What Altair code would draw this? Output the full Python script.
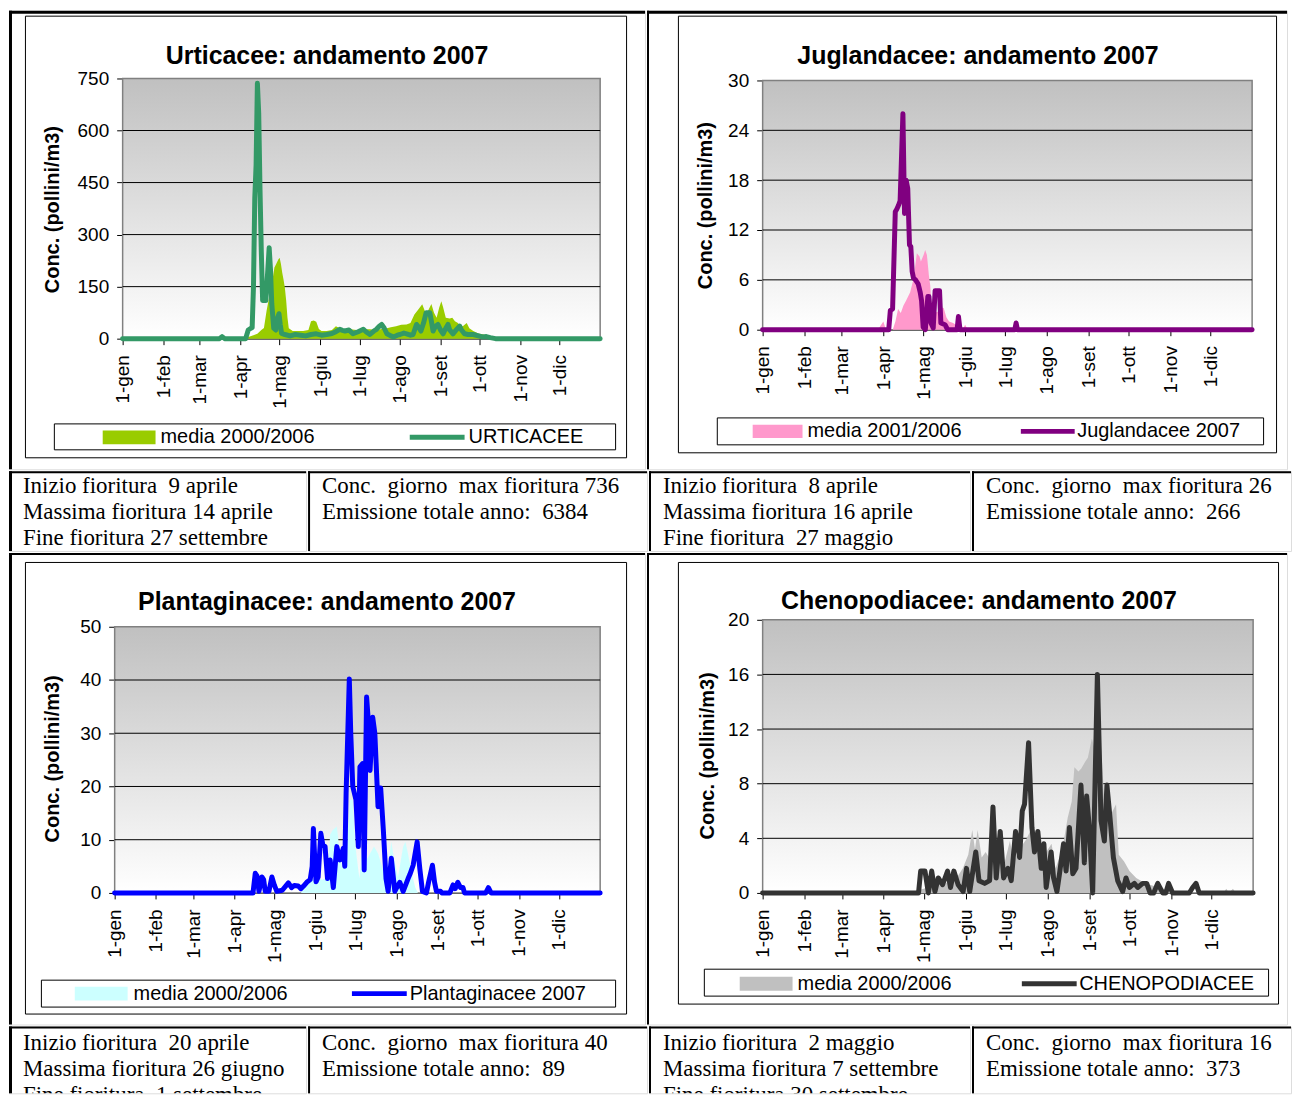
import altair as alt
import pandas as pd

# ---------------- data ----------------
MONTH_DAYS = [0, 31, 59, 90, 120, 151, 181, 212, 243, 273, 304, 334]
MONTH_LABELS = ["1-gen", "1-feb", "1-mar", "1-apr", "1-mag", "1-giu",
                "1-lug", "1-ago", "1-set", "1-ott", "1-nov", "1-dic"]

# Urticacee
URT_MEDIA_DAY = [0, 93, 96, 100, 103, 106, 108, 110, 112, 114, 116, 117, 119, 120, 121, 122, 123, 124, 125, 126,
                 127, 130, 134, 138, 142, 144, 146, 148, 150, 152, 156, 160, 163, 166, 169, 174, 179, 184, 189, 194,
                 198, 202, 205, 209, 213, 217, 220, 223, 226, 229, 232, 236, 238, 240, 242, 243.6, 245, 247, 250, 252,
                 254, 256, 258, 260, 263, 265, 268, 272, 276, 280, 285, 290, 295, 365]
URT_MEDIA_VAL = [0, 0, 5, 10, 14, 25, 31, 80, 120, 156, 205, 212, 228, 233, 215, 190, 170, 147, 110, 60,
                 30, 22, 22, 22, 25, 50, 52, 49, 28, 22, 22, 25, 36, 30, 27, 27, 25, 27, 27, 25,
                 28, 30, 33, 36, 40, 41, 45, 70, 84, 99, 70, 100, 75, 60, 90, 108, 90, 60, 58, 60,
                 50, 46, 38, 36, 45, 30, 22, 15, 12, 5, 4, 2, 0, 0]
URT_DAY = [0, 74, 76, 78, 94, 96, 98, 99, 100, 101, 102, 103, 104, 105, 106, 107, 108, 109.5, 111, 112,
           113, 114, 115.5, 117, 118.5, 119.5, 120.5, 121.5, 124, 128, 132, 136, 140, 144, 148, 152, 156, 160, 163, 166,
           168, 170, 173, 176, 180, 184, 186, 189, 192, 194, 196, 198, 200, 202, 205, 207, 210, 212, 215, 217,
           220, 222, 224.6, 226, 228, 230, 232, 234.8, 236, 237.3, 239, 241, 243, 245, 247, 248.7, 250, 252.5, 255, 257.6,
           259, 261.4, 264, 268, 272, 275, 278, 281, 285, 365]
URT_VAL = [0, 0, 6, 0, 0, 25, 30, 32, 150, 405, 500, 736, 650, 430, 250, 110, 110, 110, 200, 262,
           200, 100, 30, 25, 60, 72, 40, 15, 12, 8, 12, 10, 8, 12, 14, 10, 12, 15, 20, 27,
           24, 22, 25, 14, 20, 27, 20, 12, 22, 27, 35, 41, 30, 14, 8, 5, 10, 12, 16, 14,
           10, 12, 41, 35, 22, 45, 75, 75, 50, 22, 35, 41, 25, 14, 30, 41, 25, 14, 25, 36,
           25, 14, 12, 12, 8, 5, 6, 3, 0, 0]

# Juglandacee
JUG_MEDIA_DAY = [0, 86, 88, 90, 92, 97, 99, 101, 103, 105, 107, 110, 112.5, 115, 117, 118, 120, 121.2, 122.5, 124,
                 125, 126, 128, 131, 133, 135, 137, 139, 142, 147, 149, 151, 153, 365]
JUG_MEDIA_VAL = [0, 0, 0.5, 1, 0, 0, 1, 2.5, 2, 2.9, 3.5, 4.5, 6.1, 9.2, 8.8, 8.2, 9, 9.6, 9, 6.5,
                 5.3, 2.5, 2, 2.2, 2.7, 2.6, 1.5, 1, 0.8, 0.3, 0, 0.6, 0, 0]
JUG_DAY = [0, 94, 95.2, 96.9, 98.9, 100, 101.4, 102.5, 104.6, 105.8, 107, 108.2, 109.5, 110.5, 111.5, 112.5, 114, 116,
           117.5, 118.5, 119.7, 121.3, 123.2, 124, 125.5, 127.2, 128.6, 131.9, 132.9, 136, 137.9, 145, 146, 147.2,
           188, 189, 190, 365]
JUG_VAL = [0, 0, 2.3, 2.5, 14.2, 14.5, 15, 15.5, 26, 14, 18, 17, 10.2, 10, 7, 6.2, 6, 5.5,
           4.5, 3.5, 0.3, 0, 4, 4, 0.8, 0.2, 4.7, 4.7, 0.8, 0.6, 0, 0, 1.6, 0,
           0, 0.8, 0, 0]

# Plantaginacee
PLA_MEDIA_DAY = [0, 140, 144, 148, 152, 156, 160, 162, 164, 167, 169.4, 171, 173, 175, 177, 179, 181, 184, 186, 190,
                 192, 195, 198, 201, 203.3, 206, 208, 210, 213, 216.9, 218.6, 220.5, 224, 226, 228, 365]
PLA_MEDIA_VAL = [0, 0, 1.5, 2.5, 3, 2.5, 3, 11, 11.8, 12.5, 7.4, 4.6, 6.4, 10, 17.5, 17.5, 8.7, 2.7, 8.7, 6.4,
                 7.4, 8.7, 7.4, 5, 3, 6, 9.6, 6.4, 3, 8.7, 9.6, 7.4, 3, 1, 0, 0]
PLA_DAY = [0, 104, 105.7, 107, 108.5, 110.7, 112, 113.2, 116, 118.2, 120, 121.9, 126, 130.6, 133, 135, 138, 140, 142, 144.4,
           147, 148.5, 149.4, 150.5, 151.4, 153, 155, 156.5, 158.2, 160, 162, 164.4, 167, 169.4, 171.9, 173, 174, 176.4,
           177.5, 179, 181.4, 183.2, 184.4, 186.4, 187.6, 189.4, 190.5, 192, 194, 195.6, 198, 200, 202, 204, 205.6,
           208, 210.6, 212, 214.4, 216.9, 220.6, 222, 224.4, 227.4, 229.4, 231.4, 234.4, 236, 238.9, 240.5, 241.9,
           245, 246, 252, 254.4, 256, 258, 260, 261.9, 263, 279, 281, 283, 365]
PLA_VAL = [0, 0, 3.7, 3.2, 0.3, 3.0, 2.5, 0.3, 0.3, 3.0, 1.5, 0.3, 0.5, 1.9, 1.0, 1.4, 1.3, 0.8, 1.3, 2,
           2.5, 5, 12.1, 6, 2.1, 3, 11.2, 9, 8.7, 2.7, 6.2, 1, 8.7, 6.2, 8.4, 5, 18.7, 40.2,
           30, 20, 17.5, 8.7, 23.7, 24.3, 4.3, 36.8, 33, 23, 33, 30, 16.2, 19.7, 11.8, 2.7, 0.3,
           6.5, 0.3, 1, 2, 0.3, 2.7, 3.5, 5.2, 9.6, 4.6, 0.3, 0, 2, 5.2, 2, 0.3,
           0.3, 0, 0, 1.5, 0.8, 2, 1, 1, 0, 0, 1, 0, 0]

# Chenopodiacee
CHE_MEDIA_DAY = [0, 110, 115, 120, 125, 130, 135, 140, 145, 149, 153, 156, 158, 160, 163, 166, 170, 174, 176, 179,
                 184, 187, 191, 196, 201, 206, 211, 215, 218, 223, 227, 230, 232, 235, 237, 240, 242, 245, 248, 252,
                 254, 257, 260, 263, 265, 269, 273, 278, 285, 295, 305, 310, 343, 345, 347, 350, 352, 365]
CHE_MEDIA_VAL = [0, 0, 0.2, 0.3, 0.5, 0.8, 0.6, 1.0, 1.2, 1.8, 2.8, 4.6, 3.2, 4.6, 2.6, 3.0, 2.3, 3.2, 4.0, 1.8,
                 3.8, 2.3, 3.2, 3.9, 4.9, 3.7, 3.0, 3.6, 1.8, 3.2, 5.5, 6.7, 9.2, 8.9, 9.1, 9.6, 9.9, 11.3, 10.2, 10.5,
                 7.2, 5.2, 5.9, 6.5, 2.8, 2.3, 1.6, 1.1, 0.7, 0.4, 0.1, 0, 0, 0.3, 0, 0.3, 0, 0]
CHE_DAY = [0, 116, 117.6, 120.8, 123.3, 125.8, 128.2, 130.7, 133.9, 137.6, 139.8, 142.3, 145.5, 149.2, 151.7, 154.1,
           158.6, 161, 165.2, 168.9, 171.4, 173.8, 176.8, 179.3, 182.5, 185, 188.2, 191.2, 193.2, 194.9, 197.9, 200.4,
           202.3, 204.8, 207.3, 209.3, 211, 214.7, 216.5, 219, 220.9, 223.9, 225.8, 228.3, 230.8, 233.2, 236.9, 239.4,
           241.1, 243.1, 245.6, 249.1, 251.8, 254.3, 256.2, 258.5, 261, 264.2, 267.9, 270.4, 272.9, 276.6, 279.1,
           282.8, 285.8, 288.3, 291, 294, 297.7, 300, 302.1, 305.1, 317.5, 320, 322.5, 324.9, 365]
CHE_VAL = [0, 0, 1.6, 1.6, 0, 1.6, 0.1, 1.1, 0.6, 1.6, 0.4, 1.6, 0.6, 0.1, 1.8, 0.1,
           3.0, 0.9, 0.7, 0.9, 6.3, 1.1, 4.5, 1.1, 1.8, 0.9, 4.5, 2.6, 6.0, 6.5, 11.0, 4.8,
           3.0, 4.5, 1.8, 3.6, 0.4, 3.0, 1.1, 0.1, 1.4, 3.6, 1.6, 4.8, 1.4, 1.8, 7.9, 2.2,
           7.1, 4.8, 0, 16, 5.3, 3.8, 7.9, 5.5, 2.6, 0.9, 0.1, 1.1, 0.4, 0.7, 0.4,
           0.7, 0.7, 0, 0, 0.7, 0, 0, 0.7, 0, 0, 0.4, 0.7, 0, 0]

TITLES = ["Urticacee: andamento 2007", "Juglandacee: andamento 2007",
          "Plantaginacee: andamento 2007", "Chenopodiacee: andamento 2007"]
MEDIA_LABELS = ["media 2000/2006", "media 2001/2006", "media 2000/2006", "media 2000/2006"]
LINE_LABELS = ["URTICACEE", "Juglandacee 2007", "Plantaginacee 2007", "CHENOPODIACEE"]
Y_MAX = [750, 30, 50, 20]
Y_STEP = [150, 6, 10, 4]
Y_TITLE = "Conc. (pollini/m3)"

NB = "\u00a0"
TEXT_1A = ["Inizio fioritura " + NB + "9 aprile", "Massima fioritura 14 aprile", "Fine fioritura 27 settembre"]
TEXT_1B = ["Conc. " + NB + "giorno " + NB + "max fioritura 736", "Emissione totale anno: " + NB + "6384"]
TEXT_2A = ["Inizio fioritura " + NB + "8 aprile", "Massima fioritura 16 aprile", "Fine fioritura " + NB + "27 maggio"]
TEXT_2B = ["Conc. " + NB + "giorno " + NB + "max fioritura 26", "Emissione totale anno: " + NB + "266"]
TEXT_3A = ["Inizio fioritura " + NB + "20 aprile", "Massima fioritura 26 giugno", "Fine fioritura " + NB + "1 settembre"]
TEXT_3B = ["Conc. " + NB + "giorno " + NB + "max fioritura 40", "Emissione totale anno: " + NB + "89"]
TEXT_4A = ["Inizio fioritura " + NB + "2 maggio", "Massima fioritura 7 settembre", "Fine fioritura 30 settembre"]
TEXT_4B = ["Conc. " + NB + "giorno " + NB + "max fioritura 16", "Emissione totale anno: " + NB + "373"]

# ---------------- styles / layout (page pixel coordinates) ----------------
FONT = "Liberation Sans"
SERIF = "Liberation Serif"
MEDIA_COLORS = ["#99cc00", "#ff99cc", "#ccffff", "#c0c0c0"]
LINE_COLORS = ["#339966", "#800080", "#0000ff", "#333333"]

LEFT = 8
TOP = 12       # top of the drawing as it lands on the page
RIGHT = 1288   # right edge of the drawing (page px)
LAYOUT = [
    dict(cell=(LEFT, TOP, 646, 472), plot=(122, 80, 601, 341), box=(24, 17, 628, 461), title=(327, 65),
         ytitle=(52, 211), lbox=(53, 426, 617, 453), swatch=(102, 155, 440), mlab=160,
         lsym=(410, 465, 440), llab=469),
    dict(cell=(646, TOP, RIGHT, 472), plot=(762, 82, 1253, 332), box=(677, 17, 1278, 456), title=(978, 65),
         ytitle=(705, 207), lbox=(716, 420, 1265, 448), swatch=(752, 802, 434), mlab=807,
         lsym=(1021, 1075, 434), llab=1077),
    dict(cell=(LEFT, 552, 646, 1025), plot=(114, 626, 601, 893), box=(24, 561, 628, 1015), title=(327, 609),
         ytitle=(52, 758), lbox=(40, 980, 617, 1008), swatch=(74, 127, 994), mlab=133,
         lsym=(352, 407, 994), llab=410),
    dict(cell=(646, 552, RIGHT, 1025), plot=(762, 619, 1254, 893), box=(677, 561, 1280, 1005), title=(979, 608),
         ytitle=(707, 755), lbox=(703, 969, 1270, 997), swatch=(739, 792, 984), mlab=797,
         lsym=(1022, 1077, 984), llab=1079),
]
TEXT_COLS = [LEFT, 306, 646, 968, RIGHT]
TEXT_ROWS = [(472, 552, 22), (1025, 1092, 24)]

GRADIENT = alt.LinearGradient(
    gradient="linear",
    stops=[alt.GradientStop(color="#c0c0c0", offset=0), alt.GradientStop(color="#ffffff", offset=1)],
    x1=0, x2=0, y1=0, y2=1,
)

LABEL_EXPR = ("[" + ",".join("'%s'" % m for m in MONTH_LABELS) + "][indexof(["
              + ",".join(str(d) for d in MONTH_DAYS) + "], datum.value)]")

ONE = pd.DataFrame({"k": [0]})


def v(n):
    return alt.value(n)


def borders(w, h, top_w=2, left_w=2):
    base = alt.Chart(ONE)
    cell = base.mark_rect(fill="transparent", strokeWidth=0).encode(x=v(0), x2=v(w), y=v(0), y2=v(h))
    top = base.mark_rect(fill="black", strokeWidth=0).encode(x=v(0), x2=v(w), y=v(0), y2=v(top_w))
    left = base.mark_rect(fill="black", strokeWidth=0).encode(x=v(0), x2=v(left_w), y=v(0), y2=v(h))
    return [cell, top, left]


def chart_panel(i, media_day, media_val, line_day, line_val):
    p = LAYOUT[i]
    cx0, cy0, cx1, cy1 = p["cell"]
    CW, CH = cx1 - cx0, cy1 - cy0

    def rx(x):
        return x - cx0

    def ry(y):
        return y - cy0

    px0, py0, px1, py1 = p["plot"]
    ymax, ystep = Y_MAX[i], Y_STEP[i]
    yticks = list(range(0, ymax + 1, ystep))

    xscale = alt.Scale(domain=[0, 365], range=[rx(px0), rx(px1)], nice=False, zero=False)
    yscale = alt.Scale(domain=[0, ymax], range=[ry(py1), ry(py0)], nice=False, zero=False)
    xaxis = alt.Axis(values=MONTH_DAYS, labelExpr=LABEL_EXPR, labelAngle=270, labelAlign="right",
                     labelBaseline="middle", labelFont=FONT, labelFontSize=19, labelColor="black",
                     labelPadding=10, tickSize=6, tickColor="black", domainColor="black",
                     labelFlush=False, labelOverlap=False, grid=False, title=None,
                     offset=ry(py1) - CH)
    yaxis = alt.Axis(values=yticks, labelFont=FONT, labelFontSize=19, labelColor="black",
                     labelPadding=8, tickSize=6, tickColor="black", domainColor="#808080",
                     labelFlush=False, labelOverlap=False, grid=False, offset=-rx(px0),
                     title=Y_TITLE, titleFont=FONT, titleFontSize=20, titleFontWeight="bold",
                     titleColor="black", titleAngle=270, titleAlign="center", titleBaseline="middle",
                     titleX=p["ytitle"][0] - px0, titleY=ry(p["ytitle"][1]))

    base = alt.Chart(ONE)
    bx0, by0, bx1, by1 = p["box"]
    box = base.mark_rect(fill="transparent", stroke="black", strokeWidth=1).encode(
        x=v(rx(bx0) + 0.5), x2=v(rx(bx1) - 0.5), y=v(ry(by0) + 0.5), y2=v(ry(by1) - 0.5))
    ttl = base.mark_text(font=FONT, fontSize=25, fontWeight="bold", align="center",
                         baseline="alphabetic", color="black").encode(
        x=v(rx(p["title"][0])), y=v(ry(p["title"][1])), text=v(TITLES[i]))
    lx0, ly0, lx1, ly1 = p["lbox"]
    lbox = base.mark_rect(fill="transparent", stroke="black", strokeWidth=1).encode(
        x=v(rx(lx0) + 0.5), x2=v(rx(lx1) - 0.5), y=v(ry(ly0) + 0.5), y2=v(ry(ly1) - 0.5))

    bg_df = pd.DataFrame({"day": [0], "day2": [365], "val": [0], "val2": [ymax]})
    bg = alt.Chart(bg_df).mark_rect(fill=GRADIENT, stroke="#808080", strokeWidth=1.5).encode(
        x=alt.X("day:Q", scale=xscale, axis=xaxis), x2=alt.X2("day2"),
        y=alt.Y("val:Q", scale=yscale, axis=yaxis), y2=alt.Y2("val2"))

    grid_df = pd.DataFrame({"val": yticks[1:-1], "day": [0] * (len(yticks) - 2),
                            "day2": [365] * (len(yticks) - 2)})
    grid = alt.Chart(grid_df).mark_rule(color="black", strokeWidth=1).encode(
        x=alt.X("day:Q", scale=xscale, axis=xaxis), x2=alt.X2("day2"),
        y=alt.Y("val:Q", scale=yscale, axis=yaxis))

    # legend geometry
    sw0, sw1, scy = p["swatch"]
    sw = sw1 - sw0
    fill_legend = alt.Legend(orient="none", legendX=rx(sw0), legendY=ry(scy) - sw / 2.0, title=None,
                             padding=0, symbolType="M-1,-0.264H1V0.264H-1Z", symbolSize=sw * sw,
                             symbolStrokeWidth=0, symbolOpacity=1, labelFont=FONT, labelFontSize=20,
                             labelColor="black", labelLimit=500, labelOffset=max(0, p["mlab"] - sw1))
    ls0, ls1, lcy = p["lsym"]
    lw = ls1 - ls0
    lsize = lw + 5
    stroke_legend = alt.Legend(orient="none", legendX=rx(ls0) - 2.5, legendY=ry(lcy) - lsize / 2.0,
                               title=None, padding=0, symbolType="M-1,0H1", symbolSize=lw * lw,
                               symbolStrokeWidth=5, symbolOpacity=1, labelFont=FONT, labelFontSize=20,
                               labelColor="black", labelLimit=500,
                               labelOffset=max(0, p["llab"] - (ls0 - 2.5 + lsize)))

    media_df = pd.DataFrame({"day": media_day, "val": media_val, "serie_m": MEDIA_LABELS[i]})
    area = alt.Chart(media_df).mark_area(opacity=1, interpolate="linear").encode(
        x=alt.X("day:Q", scale=xscale, axis=xaxis),
        y=alt.Y("val:Q", scale=yscale, axis=yaxis, stack=False),
        fill=alt.Fill("serie_m:N", scale=alt.Scale(domain=[MEDIA_LABELS[i]], range=[MEDIA_COLORS[i]]),
                      legend=fill_legend))

    line_df = pd.DataFrame({"day": line_day, "val": line_val, "serie_l": LINE_LABELS[i]})
    line = alt.Chart(line_df).mark_line(strokeWidth=5, strokeJoin="round", strokeCap="round").encode(
        x=alt.X("day:Q", scale=xscale, axis=xaxis),
        y=alt.Y("val:Q", scale=yscale, axis=yaxis),
        stroke=alt.Stroke("serie_l:N", scale=alt.Scale(domain=[LINE_LABELS[i]], range=[LINE_COLORS[i]]),
                          legend=stroke_legend))

    top_w = 3 if cy0 == TOP else 2
    left_w = 3 if cx0 == LEFT else 2
    layers = borders(CW, CH, top_w, left_w) + [box, ttl, lbox, bg, grid, area, line]
    return alt.layer(*layers).properties(width=CW, height=CH)


def text_cell(x0, x1, row, lines):
    y0, y1, base_y = row
    w, h = x1 - x0, y1 - y0
    txt = alt.Chart(ONE).mark_text(font=SERIF, fontSize=23, lineHeight=26, align="left",
                                   baseline="alphabetic", color="black", clip=True).encode(
        x=v(14), y=v(base_y), text=v(lines))
    left_w = 3 if x0 == LEFT else 2
    return alt.layer(*(borders(w, h, 2, left_w) + [txt])).properties(width=w, height=h)


def indep(c):
    return c.resolve_scale(fill="independent", stroke="independent").resolve_legend(
        fill="independent", stroke="independent")


p1 = chart_panel(0, URT_MEDIA_DAY, URT_MEDIA_VAL, URT_DAY, URT_VAL)
p2 = chart_panel(1, JUG_MEDIA_DAY, JUG_MEDIA_VAL, JUG_DAY, JUG_VAL)
p3 = chart_panel(2, PLA_MEDIA_DAY, PLA_MEDIA_VAL, PLA_DAY, PLA_VAL)
p4 = chart_panel(3, CHE_MEDIA_DAY, CHE_MEDIA_VAL, CHE_DAY, CHE_VAL)

TX = TEXT_COLS
row1 = indep(alt.hconcat(p1, p2, spacing=0))
trow1 = alt.hconcat(text_cell(TX[0], TX[1], TEXT_ROWS[0], TEXT_1A), text_cell(TX[1], TX[2], TEXT_ROWS[0], TEXT_1B),
                    text_cell(TX[2], TX[3], TEXT_ROWS[0], TEXT_2A), text_cell(TX[3], TX[4], TEXT_ROWS[0], TEXT_2B),
                    spacing=0)
row2 = indep(alt.hconcat(p3, p4, spacing=0))
trow2 = alt.hconcat(text_cell(TX[0], TX[1], TEXT_ROWS[1], TEXT_3A), text_cell(TX[1], TX[2], TEXT_ROWS[1], TEXT_3B),
                    text_cell(TX[2], TX[3], TEXT_ROWS[1], TEXT_4A), text_cell(TX[3], TX[4], TEXT_ROWS[1], TEXT_4B),
                    spacing=0)

chart = indep(alt.vconcat(row1, trow1, row2, trow2, spacing=0)).properties(
    padding=0, background="white"
).configure_view(stroke="transparent", strokeWidth=0).configure(font=FONT)

chart.save("out.html", embed_options={"renderer": "svg", "actions": False})
